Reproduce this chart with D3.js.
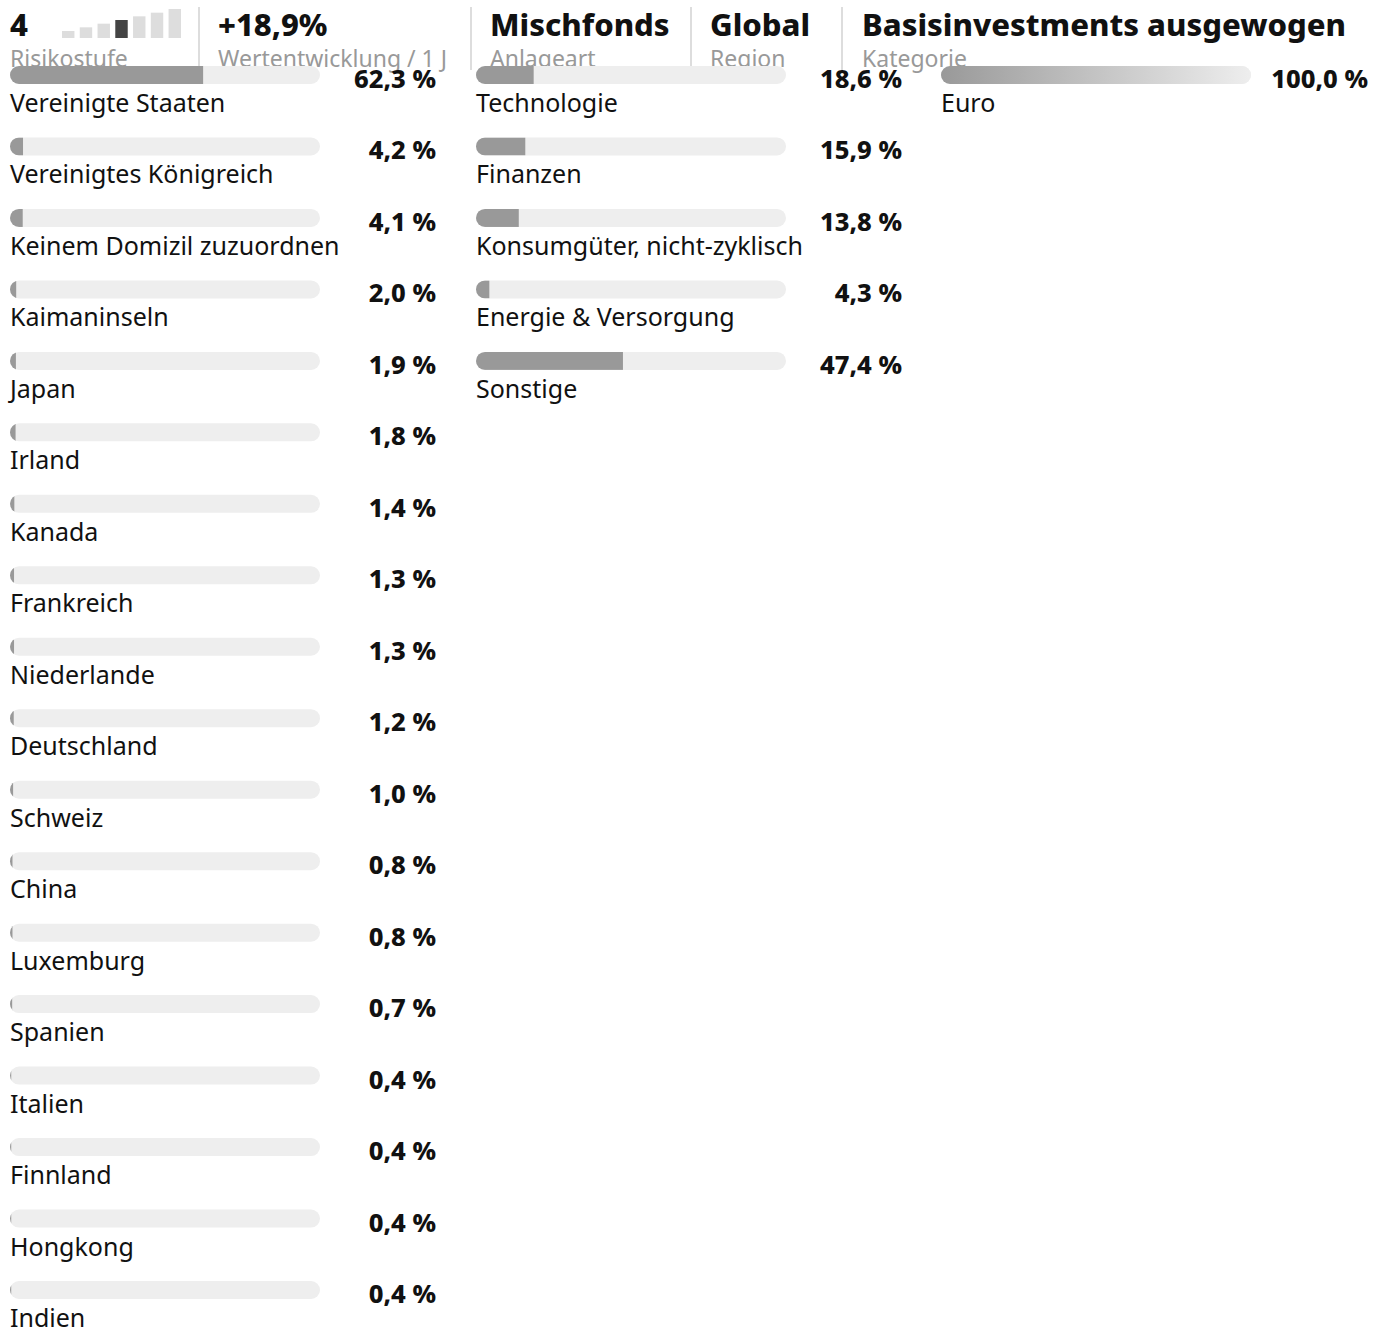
<!DOCTYPE html>
<html><head><meta charset="utf-8">
<script src="https://cdn.jsdelivr.net/npm/d3@7"></script>
<style>
html,body{margin:0;padding:0;background:#fff;}
svg{display:block;font-family:"Noto Sans",sans-serif;}
</style></head>
<body>
<script>
const countries = ["Vereinigte Staaten","Vereinigtes Königreich","Keinem Domizil zuzuordnen","Kaimaninseln","Japan","Irland","Kanada","Frankreich","Niederlande","Deutschland","Schweiz","China","Luxemburg","Spanien","Italien","Finnland","Hongkong","Indien"];
const countryValues = [62.3,4.2,4.1,2.0,1.9,1.8,1.4,1.3,1.3,1.2,1.0,0.8,0.8,0.7,0.4,0.4,0.4,0.4];
const sectors = ["Technologie","Finanzen","Konsumgüter, nicht-zyklisch","Energie & Versorgung","Sonstige"];
const sectorValues = [18.6,15.9,13.8,4.3,47.4];
const currencies = ["Euro"];
const currencyValues = [100.0];
const riskLevel = 4;
const riskSteps = [1,2,3,4,5,6,7];
const headerValues = ["+18,9%","Mischfonds","Global","Basisinvestments ausgewogen"];
const headerLabels = ["Wertentwicklung / 1 J","Anlageart","Region","Kategorie"];

const W = 1385, H = 1328;
const svg = d3.select("body").append("svg").attr("width", W).attr("height", H);
const defs = svg.append("defs");
const grad = defs.append("linearGradient").attr("id","g100");
grad.append("stop").attr("offset","0%").attr("stop-color","#999");
grad.append("stop").attr("offset","100%").attr("stop-color","#eee");

const fmt = v => d3.format(".1f")(v).replace(".", ",") + " %";

// Header
const hdr = svg.append("g");
hdr.append("text").attr("x",10).attr("y",36).attr("font-size",31).attr("font-weight",800).attr("fill","#111").text(riskLevel);
const rx = d3.scaleBand().domain(riskSteps).range([62,181]).paddingInner(0.3);
const rh = d3.scaleLinear().domain([1,7]).range([7,29]);
hdr.selectAll("rect.risk").data(riskSteps).join("rect")
  .attr("x", d=>rx(d)).attr("width", rx.bandwidth())
  .attr("y", d=>38-rh(d)).attr("height", d=>rh(d))
  .attr("fill", d=> d===riskLevel ? "#444" : "#ddd");
hdr.append("text").attr("x",10).attr("y",67).attr("font-size",23).attr("fill","#999").text("Risikostufe");
const hx = [218,490,710,862];
const sepX = [198,470,690,841];
sepX.forEach(x=>hdr.append("rect").attr("x",x).attr("y",7).attr("width",2).attr("height",63).attr("fill","#ddd"));
headerValues.forEach((t,i)=>{
  hdr.append("text").attr("x",hx[i]).attr("y",36).attr("font-size",31).attr("font-weight",800).attr("fill","#111").text(t);
  hdr.append("text").attr("x",hx[i]).attr("y",67).attr("font-size",23).attr("fill","#999").text(headerLabels[i]);
});

// Bar lists
const rowY = d3.scaleLinear().domain([0,1]).range([66,137.47]);
function drawList(names, values, x0, valRight, id, gradient){
  const g = svg.append("g");
  const x = d3.scaleLinear().domain([0,100]).range([x0, x0+310]);
  names.forEach((n,i)=>{
    const y = rowY(i);
    const cid = id+"c"+i;
    defs.append("clipPath").attr("id",cid).append("rect")
      .attr("x",x(0)).attr("y",y).attr("width",x(100)-x(0)).attr("height",18).attr("rx",9);
    g.append("rect").attr("x",x(0)).attr("y",y).attr("width",x(100)-x(0)).attr("height",18).attr("rx",9).attr("fill","#eee");
    g.append("rect").attr("x",x(0)).attr("y",y).attr("width",x(values[i])-x(0)).attr("height",18)
      .attr("fill", gradient ? "url(#g100)" : "#999").attr("clip-path","url(#"+cid+")");
    g.append("text").attr("x",valRight).attr("y",y+22).attr("text-anchor","end")
      .attr("font-size",25.5).attr("font-weight",800).attr("fill","#111").text(fmt(values[i]));
    g.append("text").attr("x",x0).attr("y",y+46).attr("font-size",25).attr("fill","#111").text(n);
  });
}
drawList(countries, countryValues, 10, 436, "a", false);
drawList(sectors, sectorValues, 476, 902, "b", false);
drawList(currencies, currencyValues, 941, 1368, "c", true);
</script>
</body></html>
